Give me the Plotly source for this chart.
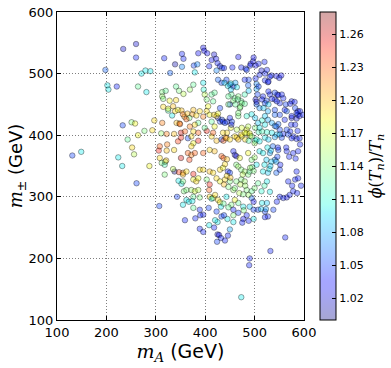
import numpy as np
import plotly.graph_objects as go

# m_A (GeV), m_pm (GeV), phi(T_n)/T_n
m_A = [
    131, 149, 198, 202, 204, 221, 224, 232, 233, 234,
    243, 251, 252, 256, 258, 260, 260, 261, 264, 264,
    271, 277, 279, 281, 287, 289, 293, 297, 307, 306,
    313, 308, 312, 318, 319, 318, 311, 322, 337, 322,
    337, 321, 338, 335, 347, 355, 351, 351, 345, 351,
    342, 348, 325, 333, 339, 352, 357, 343, 313, 320,
    313, 315, 341, 347, 356, 328, 341, 315, 325, 335,
    345, 352, 317, 329, 339, 353, 356, 353, 358, 355,
    364, 374, 382, 368, 349, 386, 403, 406, 409, 418,
    426, 430, 376, 365, 386, 403, 413, 423, 433, 308,
    323, 386, 396, 398, 404, 377, 379, 384, 408, 413,
    418, 422, 425, 430, 434, 438, 423, 455, 467, 473,
    482, 492, 497, 498, 491, 508, 520, 484, 502, 510,
    514, 521, 525, 534, 544, 550, 554, 527, 531, 502,
    504, 504, 506, 502, 504, 510, 517, 524, 531, 541,
    546, 551, 558, 563, 575, 582, 588, 565, 527, 443,
    450, 457, 433, 426, 396, 397, 399, 413, 419, 403,
    416, 376, 369, 453, 460, 467, 473, 480, 470, 450,
    430, 389, 376, 488, 487, 480, 508, 521, 528, 439,
    446, 452, 461, 452, 464, 488, 528, 541, 548, 555,
    504, 447, 457, 466, 474, 447, 461, 471, 480, 515,
    521, 535, 545, 518, 528, 541, 551, 561, 572, 581,
    587, 592, 575, 585, 434, 444, 454, 467, 494, 501,
    515, 521, 535, 541, 548, 574, 587, 452, 464, 474,
    484, 444, 484, 491, 501, 508, 515, 525, 535, 545,
    555, 558, 572, 579, 585, 592, 464, 474, 481, 488,
    501, 441, 437, 521, 528, 541, 362, 396, 423, 426,
    436, 440, 450, 453, 467, 484, 487, 490, 494, 507,
    510, 521, 527, 541, 544, 551, 561, 575, 585, 591,
    598, 565, 582, 413, 419, 399, 379, 369, 359, 372,
    386, 416, 436, 443, 450, 460, 467, 473, 480, 500,
    504, 510, 551, 568, 575, 591, 537, 548, 531, 541,
    565, 578, 588, 510, 517, 524, 534, 544, 517, 527,
    544, 551, 585, 582, 588, 568, 551, 558, 565, 571,
    578, 376, 372, 365, 372, 379, 396, 409, 419, 433,
    457, 460, 463, 470, 487, 494, 504, 355, 362, 389,
    396, 409, 416, 430, 436, 446, 450, 463, 467, 473,
    480, 487, 490, 346, 355, 376, 382, 386, 362, 372,
    379, 386, 403, 423, 430, 440, 450, 457, 460, 463,
    473, 480, 484, 494, 500, 514, 376, 389, 409, 416,
    426, 362, 355, 443, 453, 467, 477, 490, 494, 389,
    396, 423, 433, 457, 467, 484, 507, 521, 527, 409,
    408, 407, 413, 420, 430, 432, 425, 408, 418, 359,
    380, 390, 389, 396, 367, 374, 376, 376, 368, 420,
    425, 428, 432, 424, 440, 446, 450, 445, 457, 477,
    475, 488, 498, 521, 562, 532, 490, 489, 473, 594,
    576, 586, 545, 538, 513, 523, 515, 525, 531, 520,
    507, 525, 530, 520, 532, 546, 552, 547, 564, 570,
    583, 526, 533, 500, 495, 498, 491, 437, 444, 440,
    476, 444, 451, 438, 471, 481, 447, 469, 477, 488,
    498, 437, 447, 460, 478, 457, 438, 498,
]
m_pm = [
    367, 373, 506, 481, 474, 479, 364, 350, 416, 540,
    393, 421, 380, 369, 419, 548, 526, 322, 479, 400,
    500, 407, 505, 470, 350, 504, 408, 424, 285, 375,
    420, 363, 355, 352, 357, 336, 403, 402, 402, 375,
    376, 359, 341, 345, 340, 339, 363, 404, 390, 396,
    420, 419, 440, 432, 439, 321, 309, 300, 470, 472,
    463, 459, 479, 472, 467, 456, 457, 446, 443, 447,
    441, 440, 525, 501, 515, 532, 524, 511, 430, 434,
    435, 434, 432, 428, 418, 420, 439, 447, 433, 433,
    428, 422, 406, 395, 391, 407, 398, 391, 393, 382,
    385, 533, 542, 537, 533, 513, 502, 515, 512, 522,
    531, 524, 517, 512, 509, 509, 505, 510, 527, 510,
    508, 516, 520, 526, 513, 516, 519, 506, 513, 498,
    505, 500, 506, 497, 496, 493, 497, 486, 495, 492,
    483, 475, 466, 458, 450, 444, 463, 456, 466, 458,
    466, 452, 460, 450, 455, 444, 439, 439, 439, 490,
    482, 479, 485, 490, 485, 474, 466, 466, 469, 458,
    455, 482, 474, 466, 460, 463, 455, 466, 444, 450,
    444, 439, 441, 490, 481, 490, 479, 489, 487, 485,
    480, 484, 485, 474, 478, 472, 471, 469, 465, 466,
    454, 463, 456, 458, 452, 450, 450, 446, 451, 458,
    452, 459, 455, 444, 450, 441, 433, 441, 451, 454,
    433, 439, 428, 427, 425, 422, 422, 431, 434, 428,
    424, 417, 420, 415, 418, 417, 407, 412, 409, 412,
    409, 404, 403, 399, 412, 405, 406, 405, 404, 401,
    396, 402, 406, 398, 394, 385, 396, 398, 393, 391,
    391, 396, 391, 396, 393, 397, 426, 430, 431, 435,
    422, 420, 428, 417, 436, 431, 414, 403, 398, 420,
    412, 431, 425, 433, 414, 409, 425, 431, 436, 431,
    433, 409, 417, 422, 414, 412, 417, 414, 406, 398,
    404, 404, 404, 395, 393, 398, 393, 401, 404, 387,
    393, 390, 401, 401, 395, 395, 382, 376, 371, 360,
    374, 371, 374, 374, 371, 360, 357, 357, 341, 339,
    339, 344, 341, 328, 330, 325, 300, 298, 299, 303,
    309, 387, 382, 371, 368, 371, 371, 376, 374, 366,
    374, 368, 366, 363, 371, 360, 352, 336, 341, 344,
    344, 341, 339, 344, 347, 341, 339, 352, 349, 344,
    341, 336, 341, 326, 325, 328, 325, 330, 311, 311,
    309, 311, 328, 330, 325, 328, 325, 311, 314, 325,
    328, 325, 311, 309, 314, 309, 300, 299, 300, 298,
    295, 295, 287, 300, 287, 290, 284, 284, 298, 279,
    271, 276, 268, 279, 274, 270, 279, 276, 268, 320,
    311, 282, 297, 303, 291, 284, 259, 254, 250, 262,
    265, 270, 248, 243, 292, 293, 282, 337, 360, 262,
    239, 238, 233, 227, 229, 237, 247, 264, 259, 264,
    258, 261, 264, 267, 234, 212, 200, 189, 137, 318,
    318, 306, 292, 279, 280, 280, 290, 290, 308, 318,
    322, 325, 345, 352, 350, 365, 352, 380, 380, 365,
    362, 380, 375, 364, 348, 342, 347, 363, 361, 353,
    336, 334, 331, 320, 320, 318, 316, 306, 304, 303,
    292, 289, 283, 295, 278, 270, 270, 279,
]
phi_ratio = [
    1.05, 1.10, 1.06, 1.10, 1.10, 1.04, 1.10, 1.10, 1.05, 1.02,
    1.13, 1.14, 1.19, 1.16, 1.18, 1.02, 1.04, 1.05, 1.13, 1.18,
    1.10, 1.14, 1.10, 1.10, 1.18, 1.10, 1.19, 1.19, 1.05, 1.25,
    1.22, 1.19, 1.14, 1.12, 1.14, 1.14, 1.15, 1.22, 1.20, 1.20,
    1.19, 1.20, 1.00, 1.16, 1.24, 1.22, 1.26, 1.26, 1.24, 1.25,
    1.20, 1.21, 1.12, 1.10, 1.19, 1.10, 1.14, 1.05, 1.14, 1.13,
    1.15, 1.14, 1.13, 1.14, 1.16, 1.18, 1.19, 1.19, 1.18, 1.20,
    1.18, 1.20, 1.04, 1.06, 1.01, 1.04, 1.04, 1.07, 1.21, 1.22,
    1.20, 1.21, 1.19, 1.14, 1.23, 1.13, 1.19, 1.18, 1.18, 1.19,
    1.04, 1.05, 1.19, 1.05, 1.25, 1.25, 1.19, 1.20, 1.05, 1.23,
    1.22, 1.03, 1.03, 1.03, 1.03, 1.05, 1.10, 1.07, 1.04, 1.03,
    1.02, 1.03, 1.04, 1.04, 1.05, 1.04, 1.07, 1.04, 1.03, 1.04,
    1.04, 1.03, 1.03, 1.03, 1.04, 1.04, 1.04, 1.05, 1.03, 1.04,
    1.02, 1.04, 1.04, 1.04, 1.03, 1.04, 1.03, 1.04, 1.04, 1.04,
    1.07, 1.08, 1.05, 1.02, 1.06, 1.07, 1.04, 1.05, 1.04, 1.04,
    1.03, 1.04, 1.04, 1.05, 1.04, 1.05, 1.04, 1.06, 1.08, 1.05,
    1.05, 1.04, 1.05, 1.06, 1.10, 1.11, 1.16, 1.13, 1.13, 1.14,
    1.13, 1.13, 1.15, 1.13, 1.13, 1.14, 1.13, 1.12, 1.14, 1.05,
    1.05, 1.19, 1.20, 1.05, 1.06, 1.04, 1.05, 1.04, 1.04, 1.09,
    1.10, 1.10, 1.08, 1.09, 1.10, 1.09, 1.04, 1.05, 1.04, 1.04,
    1.02, 1.13, 1.14, 1.13, 1.14, 1.14, 1.13, 1.14, 1.13, 1.04,
    1.05, 1.04, 1.04, 1.09, 1.09, 1.05, 1.05, 1.04, 1.04, 1.04,
    1.05, 1.04, 1.02, 1.02, 1.05, 1.04, 1.05, 1.14, 1.10, 1.09,
    1.11, 1.10, 1.08, 1.07, 1.06, 1.04, 1.04, 1.18, 1.16, 1.17,
    1.18, 1.19, 1.17, 1.18, 1.14, 1.12, 1.12, 1.11, 1.10, 1.09,
    1.05, 1.04, 1.04, 1.04, 1.04, 1.04, 1.19, 1.18, 1.19, 1.12,
    1.11, 1.22, 1.23, 1.10, 1.09, 1.08, 1.23, 1.22, 1.19, 1.18,
    1.04, 1.05, 1.04, 1.04, 1.14, 1.11, 1.16, 1.18, 1.14, 1.09,
    1.10, 1.09, 1.08, 1.06, 1.06, 1.05, 1.04, 1.04, 1.04, 1.03,
    1.04, 1.05, 1.04, 1.13, 1.18, 1.13, 1.19, 1.22, 1.23, 1.19,
    1.23, 1.23, 1.19, 1.20, 1.19, 1.19, 1.20, 1.19, 1.18, 1.15,
    1.11, 1.10, 1.08, 1.05, 1.04, 1.04, 1.06, 1.05, 1.08, 1.07,
    1.04, 1.04, 1.04, 1.10, 1.10, 1.09, 1.09, 1.08, 1.10, 1.09,
    1.06, 1.05, 1.04, 1.04, 1.04, 1.04, 1.04, 1.04, 1.03, 1.04,
    1.04, 1.18, 1.19, 1.23, 1.22, 1.23, 1.23, 1.19, 1.20, 1.23,
    1.04, 1.02, 1.02, 1.18, 1.18, 1.14, 1.10, 1.20, 1.19, 1.19,
    1.19, 1.20, 1.19, 1.19, 1.18, 1.04, 1.05, 1.14, 1.15, 1.14,
    1.15, 1.14, 1.13, 1.10, 1.14, 1.18, 1.19, 1.18, 1.14, 1.15,
    1.17, 1.16, 1.14, 1.19, 1.18, 1.19, 1.14, 1.15, 1.14, 1.14,
    1.14, 1.15, 1.14, 1.13, 1.14, 1.11, 1.13, 1.14, 1.19, 1.18,
    1.19, 1.10, 1.10, 1.10, 1.14, 1.13, 1.10, 1.09, 1.06, 1.04,
    1.04, 1.05, 1.05, 1.04, 1.05, 1.04, 1.05, 1.05, 1.04, 1.25,
    1.23, 1.05, 1.10, 1.19, 1.18, 1.10, 1.10, 1.10, 1.04, 1.04,
    1.04, 1.04, 1.04, 1.04, 1.10, 1.10, 1.13, 1.25, 1.24, 1.10,
    1.02, 1.03, 1.04, 1.05, 1.04, 1.04, 1.08, 1.10, 1.10, 1.03,
    1.04, 1.04, 1.10, 1.04, 1.04, 1.04, 1.04, 1.04, 1.10, 1.04,
    1.04, 1.04, 1.04, 1.05, 1.09, 1.08, 1.10, 1.09, 1.10, 1.12,
    1.13, 1.10, 1.10, 1.10, 1.09, 1.05, 1.04, 1.04, 1.04, 1.04,
    1.04, 1.10, 1.09, 1.15, 1.13, 1.14, 1.15, 1.23, 1.20, 1.19,
    1.16, 1.19, 1.20, 1.20, 1.16, 1.15, 1.14, 1.16, 1.14, 1.15,
    1.03, 1.13, 1.13, 1.18, 1.14, 1.14, 1.05, 1.05,
]
cbar_ticks = [1.02, 1.05, 1.08, 1.11, 1.14, 1.17, 1.20, 1.23, 1.26]

assert len(m_A) == len(m_pm) == len(phi_ratio)

# matplotlib "jet", drawn with alpha
alpha = 0.35
jet_r = ([0, 0.35, 0.66, 0.89, 1], [0, 0, 1, 1, 0.5])
jet_g = ([0, 0.125, 0.375, 0.64, 0.91, 1], [0, 0, 1, 1, 0, 0])
jet_b = ([0, 0.11, 0.34, 0.65, 1], [0.5, 1, 1, 0, 0])
jet = []
for s in np.linspace(0, 1, 41):
    r = np.interp(s, *jet_r)
    g = np.interp(s, *jet_g)
    b = np.interp(s, *jet_b)
    jet.append([s, f"rgba({r*255:.0f},{g*255:.0f},{b*255:.0f},{alpha})"])

fig = go.Figure(go.Scatter(
    x=m_A, y=m_pm, mode="markers",
    marker=dict(
        size=5.5, color=phi_ratio, colorscale=jet, cmin=1.0, cmax=1.28,
        line=dict(color="rgba(0,0,0,0.35)", width=1),
        colorbar=dict(
            x=1.065, xanchor="left", xpad=0, y=0.5, len=1.0, ypad=0,
            thickness=16, outlinecolor="black", outlinewidth=1,
            tickvals=cbar_ticks, ticktext=[f"{t:.2f}" for t in cbar_ticks],
            ticks="inside", ticklen=4, tickcolor="black",
            tickfont=dict(size=11, family="DejaVu Sans", color="black"),
            title=dict(
                text="<i>ϕ</i>(<i>T</i><sub><i>n</i></sub>)/<i>T</i><sub><i>n</i></sub>",
                side="right", font=dict(size=16, family="DejaVu Serif", color="black"),
            ),
        ),
    ),
    showlegend=False,
))

axis_style = dict(
    range=[100, 600], dtick=100, showgrid=True, gridcolor="rgba(0,0,0,0.5)",
    griddash="1px,2px", gridwidth=1, showline=True, mirror="ticks", linecolor="black",
    linewidth=1, ticks="inside", ticklen=4, tickcolor="black", zeroline=False,
    tickfont=dict(size=13, family="DejaVu Sans", color="black"),
)
fig.update_xaxes(**axis_style, title=dict(
    text="<span style='font-family:DejaVu Serif'><i>m</i><sub><i>A</i></sub></span> (GeV)",
    font=dict(size=19, family="DejaVu Sans", color="black"), standoff=4))
fig.update_yaxes(**axis_style, title=dict(
    text="<span style='font-family:DejaVu Serif'><i>m</i><sub>±</sub></span> (GeV)",
    font=dict(size=18, family="DejaVu Sans", color="black"), standoff=0))

fig.update_layout(
    width=391, height=368,
    margin=dict(l=57, r=87, t=12, b=48, autoexpand=False),
    paper_bgcolor="white", plot_bgcolor="white",
)
# drop the default 8px body margin so the figure sits at the window corner
fig.write_html("out.html", config={"displayModeBar": False},
               post_script="document.body.style.margin='0';")
